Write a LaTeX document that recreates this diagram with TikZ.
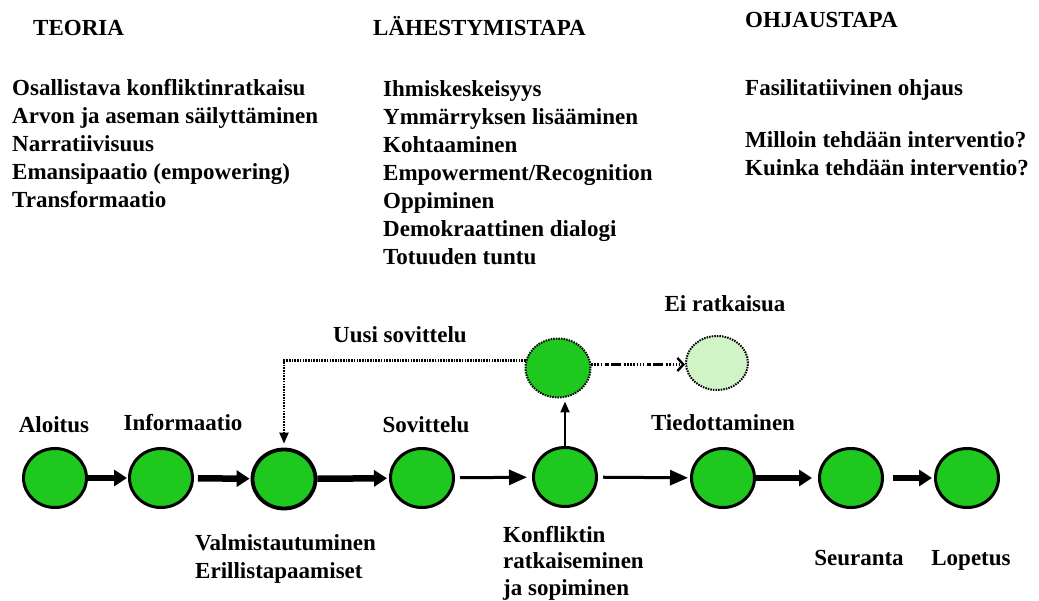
\documentclass[tikz,border=0pt]{standalone}
\usepackage{fontspec}
\setmainfont{Liberation Serif}
\usetikzlibrary{shapes.geometric,arrows.meta}
\definecolor{stagegreen}{RGB}{30,200,30}
\definecolor{palegreen}{RGB}{208,244,198}

\begin{document}
\begin{tikzpicture}[x=1pt,y=-1pt,
  txt/.style={inner sep=0pt, anchor=base west, font=\fontsize{23}{28}\selectfont\bfseries},
  ctxt/.style={txt, anchor=base},
  stage/.style={ellipse, draw=black, line width=3pt, fill=stagegreen,
    minimum width=63pt, minimum height=59pt, inner sep=0pt},
  ghost/.style={ellipse, draw=black, line width=2pt, dash pattern=on 1.5pt off 1.1pt,
    minimum width=65pt, minimum height=59pt, inner sep=0pt},
  bigarrow/.style={line width=6.5pt, -{Triangle[length=13pt,width=16pt]}},
  smallarrow/.style={line width=3pt, -{Triangle[length=18pt,width=15pt]}},
  dotline/.style={line width=2.2pt, dash pattern=on 1.6pt off 1.1pt},
]
\useasboundingbox[fill=white] (0,0) rectangle (1039,601);

% column headings
\node[txt] (h1) at (33,36) {TEORIA};
\node[txt] (h2) at (373,36) {LÄHESTYMISTAPA};
\node[txt] (h3) at (745,28) {OHJAUSTAPA};

% column contents
\foreach \t [count=\i] in {Osallistava konfliktinratkaisu, Arvon ja aseman säilyttäminen,
    Narratiivisuus, Emansipaatio (empowering), Transformaatio}
  \node[txt] (teoria\i) at (12,{68+28*\i}) {\t};

\foreach \t [count=\i] in {Ihmiskeskeisyys, Ymmärryksen lisääminen, Kohtaaminen,
    Empowerment/Recognition, Oppiminen, Demokraattinen dialogi, Totuuden tuntu}
  \node[txt] (tapa\i) at (383,{69+28*\i}) {\t};

\node[txt] (ohj1) at (745,96) {Fasilitatiivinen ohjaus};
\node[txt] (ohj2) at (745,148) {Milloin tehdään interventio?};
\node[txt] (ohj3) at (745,176) {Kuinka tehdään interventio?};

% process stages
\node[stage] (aloitus) at (55,478) {};
\node[stage] (info) at (161,478) {};
\node[stage, line width=3.8pt] (valm) at (284,479) {};
\node[stage] (sov) at (422,478) {};
\node[stage] (konf) at (565,477) {};
\node[stage] (tied) at (723,478) {};
\node[stage] (seur) at (851,478) {};
\node[stage] (lop) at (967,478) {};

\node[ghost, fill=stagegreen] (retry) at (558,368) {};
\node[ghost, fill=palegreen, minimum width=62pt, minimum height=54pt] (fail) at (717,363) {};

% stage labels
\node[ctxt] (laloitus) at (54,433) {Aloitus};
\node[ctxt] (linfo) at (183,431) {Informaatio};
\node[ctxt] (lsov) at (426,433) {Sovittelu};
\node[ctxt] (ltied) at (723,431) {Tiedottaminen};
\node[ctxt] (lseur) at (859,565) {Seuranta};
\node[ctxt] (llop) at (971,565) {Lopetus};
\node[txt] (lvalm1) at (195,550) {Valmistautuminen};
\node[txt] (lvalm2) at (195,578) {Erillistapaamiset};
\node[txt] (lkonf1) at (503,542) {Konfliktin};
\node[txt] (lkonf2) at (503,568.5) {ratkaiseminen};
\node[txt] (lkonf3) at (503,595) {ja sopiminen};
\node[ctxt] (lretry) at (400,343) {Uusi sovittelu};
\node[ctxt] (lfail) at (725,312) {Ei ratkaisua};

% main flow
\draw[bigarrow, shorten >=1pt] (aloitus) -- (info);
\draw[bigarrow, shorten <=4pt, shorten >=1pt] (info) -- (valm);
\draw[bigarrow, shorten >=2pt] (valm) -- (sov);
\draw[smallarrow, shorten <=5pt, shorten >=5pt] (sov) -- (konf);
\draw[smallarrow, shorten <=5pt, shorten >=2pt] (konf) -- (tied);
\draw[bigarrow, shorten >=6pt] (tied) -- (seur);
\draw[bigarrow, shorten <=9pt, shorten >=2pt] (seur) -- (lop);

% branch after the conflict stage
\draw[line width=2.2pt, -{Triangle[length=11pt,width=9pt]}, shorten >=3pt]
  (konf.north) -- (konf.north |- retry.south);
\draw[dotline, -{Triangle[length=11pt,width=9pt]}, shorten >=4pt]
  (retry.167) -| (valm.north);
\draw[line width=2.4pt,
  dash pattern=on 1.6pt off 1.5pt on 1.6pt off 1.5pt on 1.6pt off 1.5pt on 1.6pt off 3pt
    on 4pt off 2pt on 10pt off 3pt on 1.6pt off 1.5pt on 1.6pt off 1.5pt on 1.6pt off 1.5pt,
  -{Straight Barb[length=6pt,width=13pt]}]
  (retry.6) -- (retry.6 -| fail.west);
\end{tikzpicture}
\end{document}
